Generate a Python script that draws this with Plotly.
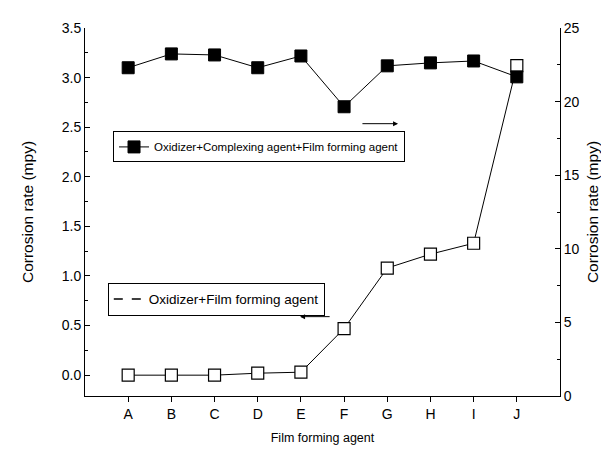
import plotly.graph_objects as go

categories = ["A", "B", "C", "D", "E", "F", "G", "H", "I", "J"]
positions = list(range(1, 11))
# Oxidizer+Film forming agent (left axis)
ofa_values = [0.0, 0.0, 0.0, 0.02, 0.03, 0.47, 1.08, 1.22, 1.33, 3.12]
# Oxidizer+Complexing agent+Film forming agent (right axis)
ocfa_values = [22.3, 23.24, 23.17, 22.3, 23.1, 19.65, 22.43, 22.63, 22.76, 21.68]

FONT = "Liberation Sans, Arial, sans-serif"

fig = go.Figure()

fig.add_trace(go.Scatter(
    x=positions, y=ofa_values, mode="lines+markers",
    line=dict(color="black", width=1),
    marker=dict(symbol="square", size=12, color="white", line=dict(color="black", width=1.2)),
    showlegend=False, yaxis="y",
))
fig.add_trace(go.Scatter(
    x=positions, y=ocfa_values, mode="lines+markers",
    name="Oxidizer+Complexing agent+Film forming agent",
    line=dict(color="black", width=1),
    marker=dict(symbol="square", size=12, color="black", line=dict(color="black", width=1)),
    yaxis="y2", legend="legend",
))
fig.add_trace(go.Scatter(
    x=[None], y=[None], mode="lines",
    name="Oxidizer+Film forming agent",
    line=dict(color="black", width=1.5, dash="dash"),
    legend="legend2",
))

axis_common = dict(showline=True, linecolor="black", linewidth=1, showgrid=False,
                   zeroline=False, tickfont=dict(family=FONT, size=14, color="black"))

fig.update_layout(
    width=609, height=450,
    margin=dict(l=77, r=57, t=18, b=62),
    paper_bgcolor="white", plot_bgcolor="white",
    font=dict(family=FONT, size=12, color="black"),
    xaxis=dict(range=[0, 11], tickvals=positions, ticktext=categories,
               ticks="outside", ticklen=5, tickcolor="black",
               title=dict(text="Film forming agent", font=dict(size=12.5), standoff=12),
               **axis_common),
    xaxis2=dict(range=[0, 11], overlaying="x", side="top", anchor="y",
                tickvals=positions, ticks="inside", ticklen=5, tickcolor="black",
                showticklabels=False, **axis_common),
    yaxis=dict(range=[-0.21, 3.5], dtick=0.5, tick0=0, tickformat=".1f",
               ticks="inside", ticklen=5, tickcolor="black",
               minor=dict(dtick=0.25, ticks="inside", ticklen=3, tickcolor="black"),
               title=dict(text="Corrosion rate (mpy)", font=dict(size=15.5), standoff=24),
               **axis_common),
    yaxis2=dict(range=[0, 25], dtick=5, overlaying="y", side="right", anchor="x",
                ticks="inside", ticklen=5, tickcolor="black",
                minor=dict(dtick=2.5, ticks="inside", ticklen=3, tickcolor="black"),
                title=dict(text="Corrosion rate (mpy)", font=dict(size=15.5), standoff=8),
                **axis_common),
    legend=dict(x=0.059, y=0.719, xanchor="left", yanchor="top",
                bordercolor="black", borderwidth=1, bgcolor="white",
                font=dict(family=FONT, size=11.5), itemwidth=30,
                tracegroupgap=0),
    legend2=dict(x=0.048, y=0.308, xanchor="left", yanchor="top",
                 bordercolor="black", borderwidth=1, bgcolor="white",
                 font=dict(family=FONT, size=13.5), itemwidth=30),
    annotations=[
        dict(x=7.25, y=18.5, xref="x", yref="y2", ax=6.39, ay=18.5,
             axref="x", ayref="y2", showarrow=True, arrowhead=2, arrowsize=1,
             arrowwidth=1, arrowcolor="black", text=""),
        dict(x=4.98, y=0.59, xref="x", yref="y", ax=5.70, ay=0.59,
             axref="x", ayref="y", showarrow=True, arrowhead=2, arrowsize=1,
             arrowwidth=1, arrowcolor="black", text=""),
    ],
)

fig.write_html("out.html")
